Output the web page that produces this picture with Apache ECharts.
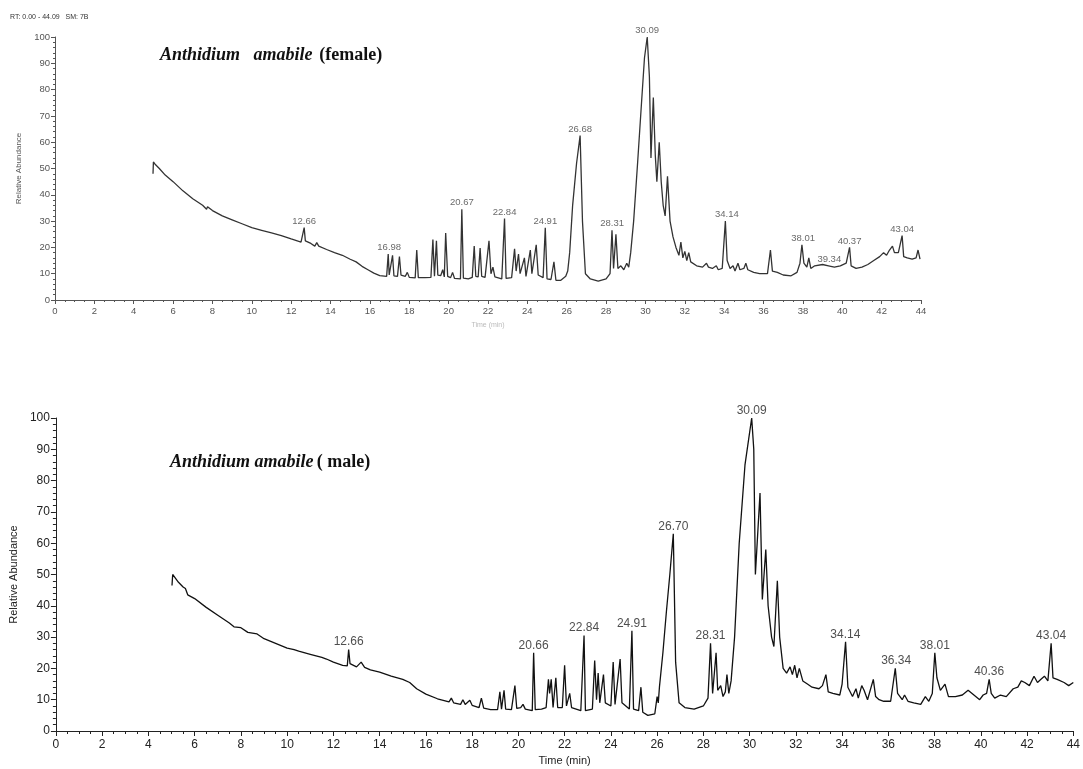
<!DOCTYPE html>
<html>
<head>
<meta charset="utf-8">
<title>Anthidium amabile chromatograms</title>
<script src="https://cdn.jsdelivr.net/npm/echarts@6/dist/echarts.min.js"></script>
<style>
  html, body { margin: 0; padding: 0; background: #fff; }
  #main { width: 1083px; height: 769px; }
</style>
</head>
<body>
<div id="main"></div>
<script>
// 数据：保留时间(min) / 相对丰度
var timeTicks = [0, 2, 4, 6, 8, 10, 12, 14, 16, 18, 20, 22, 24, 26, 28, 30, 32, 34, 36, 38, 40, 42, 44];
var abundTicks = [0, 10, 20, 30, 40, 50, 60, 70, 80, 90, 100];

// female 色谱
var femaleTrace = [
  [4.98,48],[5.0,52.5],[5.1,51.5],[5.3,50],[5.6,47.5],[6.0,45],[6.5,41.5],[7.0,38.5],[7.5,36],[7.7,34.5],[7.75,35.5],
  [8.0,34],[8.5,32],[9.0,30.5],[9.5,29],[10.0,27.5],[10.5,26.5],[11.0,25.5],[11.5,24.5],[12.0,23.2],[12.5,22],[12.6,22],
  [12.66,27.5],[12.72,22.5],[13.0,21.5],[13.2,20.5],[13.3,21.8],[13.4,20.5],[13.8,19.2],[14.2,18],[14.6,17],[15.0,15.5],
  [15.3,14.5],[15.6,12.8],[15.9,11.5],[16.2,10.2],[16.5,9.3],[16.85,9],[16.93,17.5],[16.98,9.5],[17.05,9],[17.15,17],
  [17.22,9.2],[17.4,9],[17.5,16.5],[17.58,9.5],[17.8,9],[17.9,10.5],[18.0,8.6],[18.3,8.4],[18.38,19],[18.46,8.5],
  [18.8,8.5],[19.1,8.6],[19.2,23],[19.28,9],[19.38,22.5],[19.45,9.5],[19.6,9.3],[19.7,11.5],[19.78,8.8],[19.85,25.5],
  [19.95,9],[20.1,8.5],[20.2,10.5],[20.3,8.2],[20.6,8],[20.67,34.5],[20.75,8.3],[21.0,8],[21.2,8.6],[21.3,20.5],
  [21.38,9],[21.5,8.8],[21.6,19.8],[21.68,9],[21.85,8.6],[22.05,22.5],[22.15,10],[22.25,12.5],[22.35,8.8],[22.7,8],
  [22.84,31],[22.92,8.2],[23.2,8.5],[23.35,19.5],[23.43,11],[23.55,17.5],[23.63,10],[23.85,16],[23.93,9],[24.15,19],
  [24.23,10],[24.45,21],[24.55,9.5],[24.8,8.5],[24.91,27.5],[25.0,8],[25.2,7.8],[25.35,14.5],[25.45,7.5],[25.7,7.5],
  [25.95,9],[26.05,11],[26.15,18],[26.3,36],[26.5,52],[26.68,62.5],[26.8,30],[26.95,10],[27.2,8],[27.6,7.2],[28.0,8],
  [28.2,10],[28.3,26.5],[28.38,12],[28.5,25],[28.6,12],[28.75,13],[28.9,11.5],[29.05,14],[29.15,12.5],[29.25,18],
  [29.4,30],[29.6,52],[29.8,75],[29.95,92],[30.09,100],[30.2,85],[30.28,54],[30.4,77],[30.5,55],[30.58,45],[30.7,60],
  [30.8,45],[30.9,36],[31.0,32],[31.12,47],[31.25,30],[31.4,24],[31.55,20],[31.7,17],[31.8,22],[31.9,16],[32.0,18.5],
  [32.1,15],[32.2,18],[32.3,14.5],[32.6,13],[32.9,12.5],[33.1,14],[33.2,12.5],[33.4,12],[33.6,13],[33.7,11.5],
  [33.9,12],[34.06,30],[34.15,15],[34.3,12],[34.45,13],[34.55,11],[34.7,14],[34.8,11.5],[35.0,12],[35.1,14],
  [35.2,11.5],[35.5,10.5],[35.8,10],[36.2,10],[36.35,19],[36.45,11],[36.7,10.5],[37.0,9.5],[37.4,9.2],[37.7,10.5],
  [37.85,14],[37.95,21],[38.05,14],[38.2,12.5],[38.3,16],[38.4,12],[38.6,13],[39.0,13.5],[39.3,13],[39.6,12.5],
  [39.9,13],[40.2,14],[40.37,20],[40.45,13],[40.7,12],[41.0,12.5],[41.3,13.5],[41.6,15],[41.9,16.5],[42.1,18],
  [42.25,17],[42.4,19],[42.55,20.5],[42.65,18],[42.85,18],[43.04,24.5],[43.12,16.5],[43.3,16],[43.55,15.5],
  [43.75,16],[43.85,19],[43.95,15.5]
];
var femalePeaks = [
  [12.66,27.5,'12.66'],[16.98,17.5,'16.98'],[20.67,34.5,'20.67'],[22.84,31,'22.84'],[24.91,27.5,'24.91'],
  [26.68,62.5,'26.68'],[28.31,26.5,'28.31'],[30.09,100,'30.09'],[34.14,30,'34.14'],[38.01,21,'38.01'],
  [39.34,13,'39.34'],[40.37,20,'40.37'],[43.04,24.5,'43.04']
];

// male 色谱
var maleTrace = [
  [5.02,46.5],[5.05,50],[5.15,49],[5.3,47.5],[5.5,46],[5.6,45.5],[5.7,43.5],[6.0,42.3],[6.5,39.5],[7.0,37],[7.5,34.5],
  [7.7,33.3],[8.0,33],[8.3,31.5],[8.7,31],[9.0,29.5],[9.5,28],[10.0,26.5],[10.3,26],[10.5,25.5],[11.0,24.5],[11.5,23.5],
  [11.7,23],[12.0,22],[12.4,21],[12.6,20.8],[12.66,26],[12.72,21.5],[13.0,20.5],[13.2,22],[13.35,20.3],[13.6,19.5],
  [14.0,18.8],[14.5,17.5],[15.0,16.5],[15.3,15.5],[15.6,13.5],[16.0,11.8],[16.5,10.3],[17.0,9.3],[17.1,10.5],[17.2,9],
  [17.5,8.5],[17.6,10],[17.7,8.5],[17.9,9.8],[18.0,8.2],[18.3,7.5],[18.4,10.5],[18.5,7.3],[18.8,6.8],[19.1,6.8],
  [19.2,12.5],[19.27,7],[19.38,13],[19.45,7],[19.7,6.8],[19.85,14.5],[19.93,7.2],[20.1,7.5],[20.2,8.5],[20.3,7],
  [20.6,6.5],[20.66,25],[20.73,6.8],[21.0,7],[21.2,7.5],[21.3,16.5],[21.35,12],[21.42,16.5],[21.5,7.5],[21.62,17],
  [21.7,7.5],[21.9,7.5],[22.0,21],[22.08,8],[22.22,12],[22.3,7.5],[22.7,6.5],[22.84,30.5],[22.9,6.5],[23.2,7],
  [23.3,22.5],[23.38,10],[23.45,18.5],[23.52,9],[23.68,18],[23.76,9],[24.0,8],[24.1,22],[24.18,8.5],[24.4,23],
  [24.48,9],[24.8,7],[24.91,32],[24.98,7],[25.2,6.5],[25.3,14],[25.38,6],[25.6,5],[25.9,5.5],[26.0,11],[26.05,9],
  [26.1,14],[26.25,25],[26.4,38],[26.55,50],[26.7,63],[26.8,22],[26.95,9],[27.2,7.5],[27.6,7],[28.0,8],[28.2,10.5],
  [28.31,28],[28.4,12],[28.55,25],[28.62,13],[28.75,14.5],[28.85,11],[28.95,12.5],[29.02,18],[29.1,12],[29.2,16],
  [29.35,30],[29.55,60],[29.8,85],[30.09,100],[30.18,90],[30.25,50],[30.45,76],[30.55,42],[30.7,58],[30.8,40],
  [30.95,30],[31.05,27],[31.2,48],[31.3,30],[31.45,20],[31.6,18.5],[31.75,20.5],[31.85,18],[31.95,21],[32.05,17],
  [32.15,20],[32.3,16],[32.5,15],[32.7,14],[33.0,13.5],[33.15,14.5],[33.3,18],[33.4,12.5],[33.6,12],[33.9,11.5],
  [34.0,15],[34.15,28.5],[34.25,14],[34.45,11],[34.6,13.5],[34.7,10.5],[34.85,14.5],[34.95,13],[35.1,10],[35.35,16.5],
  [35.45,11],[35.6,10],[35.8,9.5],[36.1,9.5],[36.3,20],[36.4,12],[36.6,10],[36.7,11.5],[36.85,9.5],[37.1,9],
  [37.4,8.5],[37.6,11],[37.75,9.5],[37.9,12],[38.01,25],[38.1,17],[38.25,13],[38.45,15],[38.6,11],[38.9,11],
  [39.2,11.5],[39.45,13],[39.7,11.5],[39.95,10],[40.1,11.5],[40.25,12],[40.36,16.5],[40.45,12],[40.6,10.5],
  [40.85,11.5],[41.1,11],[41.4,13.5],[41.6,14],[41.75,16],[41.9,15.5],[42.1,14.5],[42.3,17.5],[42.45,15.5],
  [42.6,16.5],[42.75,17.5],[42.9,16],[43.04,28],[43.12,17],[43.3,16.5],[43.6,15.5],[43.8,14.5],[44.0,15.5]
];
var malePeaks = [
  [12.66,26,'12.66'],[20.66,25,'20.66'],[22.84,30.5,'22.84'],[24.91,32,'24.91'],[26.70,63,'26.70'],
  [28.31,28,'28.31'],[30.09,100,'30.09'],[34.14,28.5,'34.14'],[36.34,20,'36.34'],[38.01,25,'38.01'],
  [40.36,16.5,'40.36'],[43.04,28,'43.04']
];

var chart = echarts.init(document.getElementById('main'));

// x轴
function xAxisCfg(gridIndex, small) {
  var c = small ? '#555' : '#222';
  return {
    type: 'value', gridIndex: gridIndex, min: 0, max: 44, interval: 2,
    name: 'Time (min)', nameLocation: 'middle', nameGap: small ? 22 : 24,
    nameTextStyle: { color: small ? '#bbb' : '#222', fontSize: small ? 7 : 11, fontFamily: 'Liberation Sans' },
    axisLine: { show: true, lineStyle: { color: c, width: 1 } },
    axisTick: { show: true, length: small ? 4 : 5, lineStyle: { color: c } },
    minorTick: { show: true, splitNumber: 4, length: small ? 2 : 3, lineStyle: { color: c } },
    axisLabel: { color: c, fontSize: small ? 9.5 : 12, fontFamily: 'Liberation Sans', margin: small ? 6 : 8,
      customValues: timeTicks },
    splitLine: { show: false }
  };
}
// y轴
function yAxisCfg(gridIndex, small) {
  var c = small ? '#555' : '#222';
  return {
    type: 'value', gridIndex: gridIndex, min: 0, max: 100, interval: 10,
    name: 'Relative Abundance', nameLocation: 'middle', nameGap: small ? 31 : 35,
    nameTextStyle: { color: c, fontSize: small ? 8 : 11, fontFamily: 'Liberation Sans' },
    axisLine: { show: true, lineStyle: { color: c, width: 1 } },
    axisTick: { show: true, length: small ? 4 : 5, lineStyle: { color: c } },
    minorTick: { show: true, splitNumber: 5, length: small ? 2 : 3, lineStyle: { color: c } },
    axisLabel: { color: c, fontSize: small ? 9.5 : 12, fontFamily: 'Liberation Sans', margin: small ? 5 : 6,
      customValues: abundTicks },
    splitLine: { show: false }
  };
}
// 峰标注
function peakLabels(data, idx, small) {
  return {
    type: 'scatter', xAxisIndex: idx, yAxisIndex: idx, data: data,
    symbolSize: 1, itemStyle: { color: 'rgba(0,0,0,0)' }, silent: true, z: 5,
    label: {
      show: true, position: 'top', distance: 1,
      formatter: function (p) { return p.value[2]; },
      color: small ? '#444' : '#222', fontSize: small ? 9.5 : 12, fontFamily: 'Liberation Sans'
    }
  };
}

var titleRich = {
  a: { fontFamily: 'Liberation Serif', fontStyle: 'italic', fontWeight: 'bold', fontSize: 18, fill: '#111' },
  b: { fontFamily: 'Liberation Serif', fontWeight: 'bold', fontSize: 18, fill: '#111' }
};

var option = {
  animation: false,
  backgroundColor: '#fff',
  grid: [
    { left: 55, top: 37, width: 866, height: 263 },
    { left: 52, top: 418, width: 1030, height: 313 }
  ],
  xAxis: [xAxisCfg(0, true), xAxisCfg(1, false)],
  yAxis: [yAxisCfg(0, true), yAxisCfg(1, false)],
  graphic: [
    { type: 'text', left: 10, top: 14,
      style: { text: 'RT: 0.00 - 44.09   SM: 7B', fill: '#333', font: '7px "Liberation Sans"' } },
    { type: 'text', left: 160, top: 46,
      style: { text: '{a|Anthidium   amabile}  {b|(female)}', rich: titleRich } },
    { type: 'text', left: 170, top: 453,
      style: { text: '{a|Anthidium amabile} {b|( male)}', rich: titleRich } }
  ],
  series: [
    { type: 'line', xAxisIndex: 0, yAxisIndex: 0, data: femaleTrace, showSymbol: false,
      lineStyle: { color: '#333', width: 1.3 }, silent: true },
    peakLabels(femalePeaks, 0, true),
    { type: 'line', xAxisIndex: 1, yAxisIndex: 1, data: maleTrace, showSymbol: false,
      lineStyle: { color: '#111', width: 1.3 }, silent: true },
    peakLabels(malePeaks, 1, false)
  ]
};

chart.setOption(option);
</script>
</body>
</html>
